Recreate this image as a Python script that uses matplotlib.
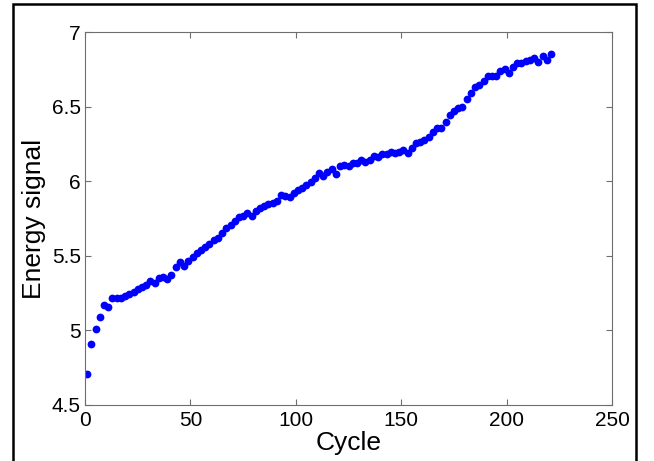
import matplotlib
matplotlib.use('Agg')
import matplotlib.pyplot as plt
from matplotlib.patches import Rectangle

plt.rcParams['font.family'] = ['Liberation Sans', 'DejaVu Sans']

# cycle numbers (every second cycle was measured)
cycles = list(range(1, 222, 2))

# energy signal
energy = [
    4.706, 4.907, 5.009, 5.090, 5.172, 5.155, 5.215, 5.215, 5.215, 5.230,
    5.242, 5.260, 5.275, 5.289, 5.302, 5.331, 5.316, 5.349, 5.356, 5.347,
    5.373, 5.427, 5.460, 5.434, 5.467, 5.494, 5.517, 5.539, 5.561, 5.577,
    5.606, 5.621, 5.651, 5.684, 5.706, 5.735, 5.762, 5.769, 5.789, 5.767,
    5.802, 5.818, 5.834, 5.845, 5.852, 5.869, 5.905, 5.900, 5.896, 5.920,
    5.941, 5.956, 5.975, 5.995, 6.020, 6.053, 6.035, 6.064, 6.082, 6.048,
    6.104, 6.109, 6.102, 6.120, 6.120, 6.142, 6.127, 6.142, 6.169, 6.164,
    6.182, 6.182, 6.194, 6.187, 6.198, 6.209, 6.191, 6.221, 6.254, 6.265,
    6.276, 6.294, 6.332, 6.359, 6.355, 6.399, 6.444, 6.471, 6.493, 6.499,
    6.551, 6.589, 6.629, 6.645, 6.672, 6.707, 6.707, 6.705, 6.741, 6.752,
    6.723, 6.767, 6.794, 6.790, 6.806, 6.812, 6.824, 6.801, 6.839, 6.812,
    6.853,
]

xticks = [0, 50, 100, 150, 200, 250]
yticks = [4.5, 5, 5.5, 6, 6.5, 7]
ytick_labels = ['4.5', '5', '5.5', '6', '6.5', '7']

fig = plt.figure(figsize=(6.54, 4.61), dpi=100)

# black frame around the figure (bottom edge is cut off in the original)
fig.patches.append(Rectangle((0.0199, -0.05), 0.9526, 1.0413, transform=fig.transFigure,
                             fill=False, edgecolor='black', linewidth=1.8))

ax = fig.add_axes([0.130, 0.1215, 0.806, 0.809])
ax.plot(cycles, energy, 'o', color='#0000ff', markersize=5.6, markeredgewidth=0)

ax.set_xlim(0, 250)
ax.set_ylim(4.5, 7)
ax.set_xticks(xticks)
ax.set_yticks(yticks)
ax.set_yticklabels(ytick_labels)

for s in ax.spines.values():
    s.set_color('#6e6e6e')
    s.set_linewidth(0.8)
ax.tick_params(direction='in', length=4, width=0.8, color='#6e6e6e',
               top=True, right=True, labelsize=15)
ax.tick_params(axis='x', pad=4)
ax.tick_params(axis='y', pad=3)

ax.set_xlabel('Cycle', fontsize=19, labelpad=1)
ax.set_ylabel('Energy signal', fontsize=19, labelpad=4)

fig.savefig('out.png', dpi=100)
